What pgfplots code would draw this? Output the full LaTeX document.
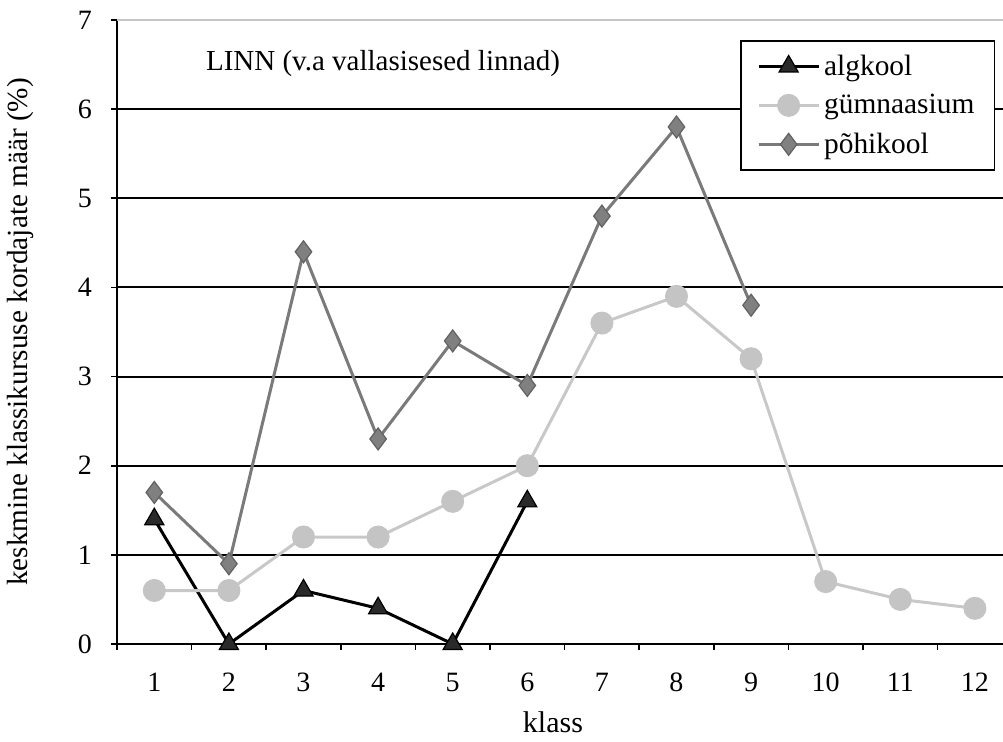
\documentclass[border=0pt]{standalone}
\usepackage{pgfplots}
\pgfplotsset{compat=1.18}
\usepackage{fontspec}
\setmainfont{Liberation Serif}
\usetikzlibrary{calc}
\definecolor{gymline}{HTML}{C8C8C8}
\definecolor{gymmark}{HTML}{C4C4C4}
\definecolor{pohline}{HTML}{7A7A7A}
\definecolor{pohmark}{HTML}{808080}
\definecolor{alkmark}{HTML}{2A2A2A}
\begin{document}
\begin{tikzpicture}
\begin{axis}[
  scale only axis,
  width=447.6pt, height=312pt,
  xmin=0.5, xmax=12.5, ymin=0, ymax=7,
  clip=false,
  font=\fontsize{14pt}{16pt}\selectfont,
  /pgf/number format/assume math mode=true,
  axis lines*=left,
  axis line style={-, line width=1pt, black},
  xtick={0.5,1.5,...,12.5},
  xticklabels={1,2,3,4,5,6,7,8,9,10,11,12},
  x tick label as interval,
  ytick={0,...,6},
  extra y ticks={7},
  extra y tick style={major grid style={line width=1pt, gray!45}},
  ymajorgrids,
  major grid style={line width=1pt, black},
  tick align=outside,
  major tick length=3pt,
  tick style={line width=0.8pt, black},
  xticklabel style={yshift=-8pt},
  yticklabel style={xshift=-6pt},
  xlabel={klass},
  xlabel style={at={(axis description cs:0.487,-0.125)}, anchor=center, font=\fontsize{15pt}{17pt}\selectfont},
  ylabel={keskmine klassikursuse kordajate määr (\%)},
  ylabel style={at={(axis description cs:-0.108,0.5)}, anchor=center, rotate=0, font=\fontsize{14.6pt}{17pt}\selectfont},
  legend style={at={(axis description cs:0.981,0.968)}, anchor=north east,
    draw=black, line width=0.8pt, fill=white,
    font=\fontsize{14.7pt}{17pt}\selectfont,
    row sep=4pt, inner xsep=8pt, inner ysep=5pt,
    cells={anchor=west}},
  legend image code/.code={\draw[mark repeat=2,mark phase=2,#1] plot coordinates {(0pt,0pt) (15pt,0pt) (30pt,0pt)};},
]
\addplot[black, line width=1.5pt, mark=triangle*, mark size=5.5pt,
  mark options={fill=alkmark, draw=black, line width=0.6pt}]
  coordinates {(1,1.4) (2,0) (3,0.6) (4,0.4) (5,0) (6,1.6)};
\addlegendentry{algkool}
\addplot[gymline, line width=1.5pt, mark=*, mark size=5pt,
  mark options={fill=gymmark, draw=gymmark}]
  coordinates {(1,0.6) (2,0.6) (3,1.2) (4,1.2) (5,1.6) (6,2.0) (7,3.6) (8,3.9) (9,3.2) (10,0.7) (11,0.5) (12,0.4)};
\addlegendentry{gümnaasium}
\addplot[pohline, line width=1.5pt, mark=diamond*, mark size=5.5pt,
  mark options={fill=pohmark, draw=pohline!80!black, line width=0.6pt}]
  coordinates {(1,1.7) (2,0.9) (3,4.4) (4,2.3) (5,3.4) (6,2.9) (7,4.8) (8,5.8) (9,3.8)};
\addlegendentry{põhikool}
\node[anchor=west, font=\fontsize{14.5pt}{17pt}\selectfont] at (axis description cs:0.0916,0.931) {LINN (v.a vallasisesed linnad)};
\end{axis}
\pgfresetboundingbox
\useasboundingbox ($(current axis.south west)+(-58.5pt,-49pt)$) rectangle ($(current axis.south west)+(443pt,322pt)$);
\end{tikzpicture}
\end{document}
